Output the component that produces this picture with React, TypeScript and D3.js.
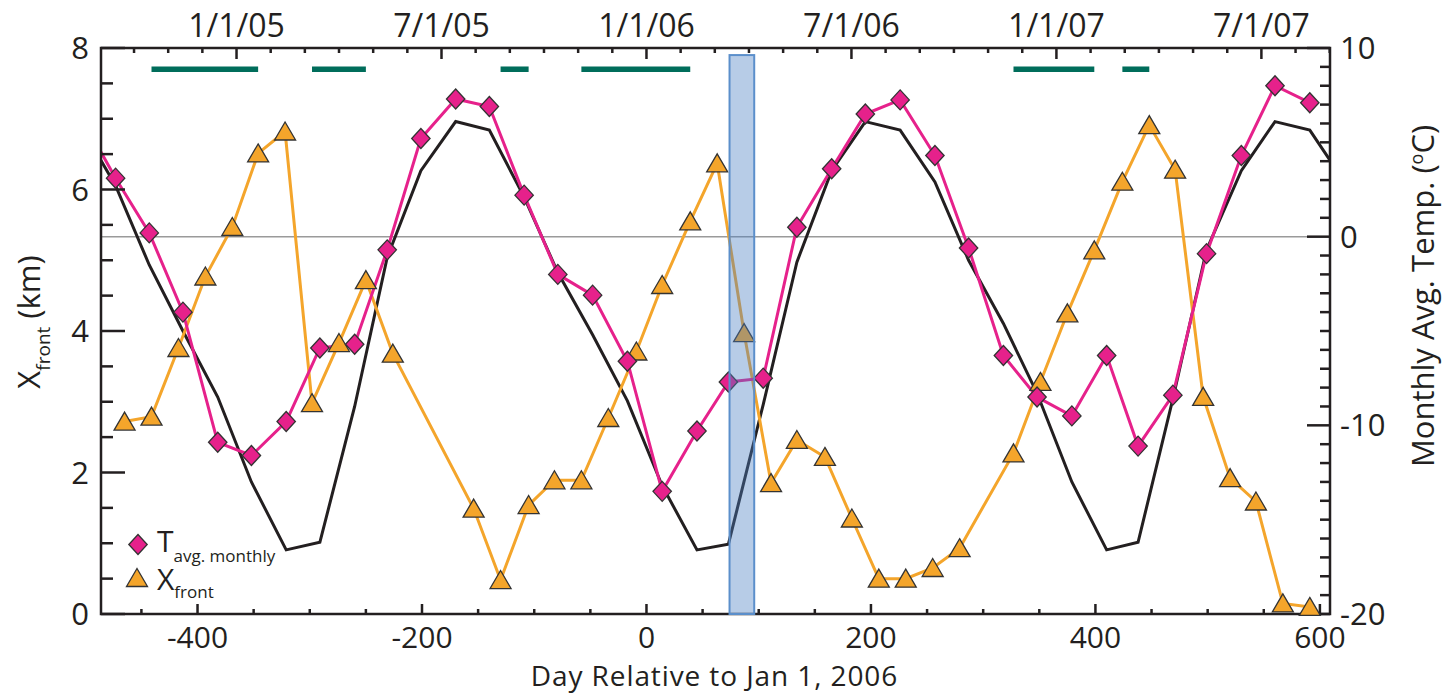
import React from 'react';
import * as d3 from 'd3';

// ---------------- data ----------------
const xDomain = [-486, 609];
const leftDomain = [0, 8];
const rightDomain = [-20, 10];

// monthly average temperature (diamonds)
const tDays = [-504, -473, -443, -413, -382, -352, -321, -291, -260, -231, -201, -170, -140, -109, -79, -48, -17, 14, 45, 73, 104, 134, 165, 195, 226, 257, 287, 318, 348, 379, 410, 438, 469, 499, 530, 560, 591];
const tAvg = [6.4, 3.1, 0.2, -4.0, -10.9, -11.6, -9.8, -5.9, -5.7, -0.7, 5.2, 7.3, 6.9, 2.2, -2.0, -3.1, -6.6, -13.5, -10.3, -7.7, -7.5, 0.5, 3.6, 6.5, 7.25, 4.3, -0.6, -6.3, -8.5, -9.5, -6.3, -11.1, -8.4, -0.9, 4.3, 8.0, 7.1];

// climatological monthly temperature (black line)
const climDays = [-504, -473, -443, -413, -382, -352, -321, -291, -260, -231, -201, -170, -140, -109, -79, -48, -17, 14, 45, 73, 104, 134, 165, 195, 226, 257, 287, 318, 348, 379, 410, 438, 469, 499, 530, 560, 591, 622];
const climTemp = [5.9, 2.7, -1.5, -5.0, -8.5, -13.0, -16.6, -16.2, -9.0, -1.1, 3.5, 6.1, 5.65, 2.1, -1.9, -5.2, -8.7, -13.2, -16.6, -16.3, -8.9, -1.35, 3.5, 6.1, 5.65, 2.9, -1.25, -4.6, -8.3, -13.0, -16.6, -16.2, -8.6, -0.7, 3.5, 6.1, 5.65, 2.9];

// front position (triangles)
const xfDays = [-465, -441, -417, -393, -369, -346, -322, -298, -274, -250, -226, -154, -130, -105, -82, -58, -34, -9, 14, 39, 63, 87, 111, 134, 159, 183, 207, 231, 255, 279, 327, 351, 375, 399, 424, 448, 471, 496, 520, 543, 567, 591];
const xfKm = [2.72, 2.79, 3.76, 4.77, 5.47, 6.51, 6.82, 2.98, 3.83, 4.72, 3.68, 1.49, 0.48, 1.54, 1.89, 1.89, 2.77, 3.71, 4.65, 5.55, 6.37, 3.97, 1.85, 2.46, 2.22, 1.35, 0.50, 0.50, 0.65, 0.93, 2.27, 3.28, 4.25, 5.14, 6.11, 6.91, 6.28, 3.07, 1.92, 1.59, 0.15, 0.10];

// advance periods (green bars)
const advStart = [-441, -298, -130, -58, 327, 424];
const advEnd = [-346, -250, -105, 39, 399, 448];
const advLevel = 7.7;

// highlighted event window
const eventDays = [74, 96];
const eventTop = 7.9;

// ticks
const bottomTicks = [-400, -200, 0, 200, 400, 600];
const leftTicks = [0, 2, 4, 6, 8];
const rightTicks = [-20, -10, 0, 10];
const topLabelYears = [2005, 2005.5, 2006, 2006.5, 2007, 2007.5];
const topLabels = ['1/1/05', '7/1/05', '1/1/06', '7/1/06', '1/1/07', '7/1/07'];

// ---------------- styles ----------------
const FONT = "'Open Sans', 'Noto Sans', sans-serif";
const INK = '#231f20';
const PINK = '#e6218b';
const ORANGE = '#f4a52b';
const TEAL = '#006d5b';

const L = 101, R = 1330, T = 48, B = 614;

export default function App() {
  const x = d3.scaleLinear().domain(xDomain).range([L, R]);
  const yL = d3.scaleLinear().domain(leftDomain).range([B, T]);
  const yR = d3.scaleLinear().domain(rightDomain).range([B, T]);
  const yr = d3.scaleLinear()
    .domain([2006 + xDomain[0] / 365.25, 2006 + xDomain[1] / 365.25])
    .range([L, R]);

  const [y0, y1] = yr.domain();
  const monthTicks = d3.range(Math.ceil(y0 * 12), Math.floor(y1 * 12) + 1).map((k) => ({ v: k / 12, major: k % 6 === 0 }));
  const bottomMinor = d3.range(-450, 601, 50).filter((v) => v % 200 !== 0);
  const leftMinor = d3.range(0, 8.01, 0.5).filter((v) => v % 2 !== 0);
  const rightMinor = d3.range(-20, 10.01, 1).filter((v) => v % 10 !== 0);

  const climPts = climDays.map((d, i) => [d, climTemp[i]] as [number, number]);
  const tPts = tDays.map((d, i) => [d, tAvg[i]] as [number, number]);
  const xfPts = xfDays.map((d, i) => [d, xfKm[i]] as [number, number]);

  const lineR = d3.line<[number, number]>().x((d) => x(d[0])).y((d) => yR(d[1]));
  const lineL = d3.line<[number, number]>().x((d) => x(d[0])).y((d) => yL(d[1]));

  const diamond = 'M0,-10L9.2,0L0,10L-9.2,0Z';
  const triangle = 'M0,-9.5L10.5,8.5L-10.5,8.5Z';

  const visibleT = tPts.filter((p) => p[0] >= xDomain[0] && p[0] <= xDomain[1]);

  return (
    <svg width={1453} height={695} style={{ position: 'absolute', left: 0, top: 0, background: '#fff' }} fontFamily={FONT}>
      <defs>
        <clipPath id="plotClip">
          <rect x={L} y={T} width={R - L} height={B - T} />
        </clipPath>
      </defs>
      <rect x={0} y={0} width={1453} height={695} fill="#fff" />

      {/* zero temperature reference */}
      <line x1={L} x2={R} y1={yR(0)} y2={yR(0)} stroke="#9a9a9a" strokeWidth={1.5} />

      <g clipPath="url(#plotClip)">
        <path d={lineR(climPts) || ''} fill="none" stroke={INK} strokeWidth={3} strokeLinejoin="miter" />
        <path d={lineL(xfPts) || ''} fill="none" stroke={ORANGE} strokeWidth={3} />
        <path d={lineR(tPts) || ''} fill="none" stroke={PINK} strokeWidth={3} />
      </g>

      {/* frame */}
      <rect x={L} y={T} width={R - L} height={B - T} fill="none" stroke={INK} strokeWidth={2.5} />

      {/* bottom ticks */}
      {bottomTicks.map((v) => (
        <line key={'bt' + v} x1={x(v)} x2={x(v)} y1={B} y2={B - 10} stroke={INK} strokeWidth={2.5} />
      ))}
      {bottomMinor.map((v) => (
        <line key={'bm' + v} x1={x(v)} x2={x(v)} y1={B} y2={B - 5} stroke={INK} strokeWidth={2.5} />
      ))}
      {bottomTicks.map((v) => (
        <text key={'bl' + v} x={x(v)} y={648} fontSize={30} textAnchor="middle" fill={INK}>{v}</text>
      ))}

      {/* top ticks */}
      {monthTicks.map((t) => (
        <line key={'tt' + t.v} x1={yr(t.v)} x2={yr(t.v)} y1={T} y2={T + (t.major ? 11 : 5)} stroke={INK} strokeWidth={2.5} />
      ))}
      {topLabelYears.map((v, i) => (
        <text key={'tl' + v} x={yr(v)} y={37} fontSize={32} textAnchor="middle" fill={INK}>{topLabels[i]}</text>
      ))}

      {/* left ticks */}
      {leftTicks.map((v) => (
        <line key={'lt' + v} x1={L} x2={L + 24} y1={yL(v)} y2={yL(v)} stroke={INK} strokeWidth={2.5} />
      ))}
      {leftMinor.map((v) => (
        <line key={'lm' + v} x1={L} x2={L + 12} y1={yL(v)} y2={yL(v)} stroke={INK} strokeWidth={2.5} />
      ))}
      {leftTicks.map((v) => (
        <text key={'ll' + v} x={89} y={yL(v) + 11} fontSize={31} textAnchor="end" fill={INK}>{v}</text>
      ))}

      {/* right ticks */}
      {rightTicks.map((v) => (
        <line key={'rt' + v} x1={R} x2={R - 23} y1={yR(v)} y2={yR(v)} stroke={INK} strokeWidth={2.5} />
      ))}
      {rightMinor.map((v) => (
        <line key={'rm' + v} x1={R} x2={R - 10} y1={yR(v)} y2={yR(v)} stroke={INK} strokeWidth={2.5} />
      ))}
      {rightTicks.map((v) => (
        <text key={'rl' + v} x={1340} y={yR(v) + 11} fontSize={31} textAnchor="start" fill={INK}>{v}</text>
      ))}

      {/* markers */}
      {xfPts.map((p, i) => (
        <path key={'tri' + i} d={triangle} transform={`translate(${x(p[0])},${yL(p[1])})`} fill={ORANGE} stroke="#333" strokeWidth={1.3} />
      ))}
      {visibleT.map((p, i) => (
        <path key={'dia' + i} d={diamond} transform={`translate(${x(p[0])},${yR(p[1])})`} fill={PINK} stroke="#333" strokeWidth={1.3} />
      ))}

      {/* advance periods */}
      {advStart.map((s, i) => (
        <line key={'adv' + i} x1={x(s)} x2={x(advEnd[i])} y1={yL(advLevel)} y2={yL(advLevel)} stroke={TEAL} strokeWidth={5.5} />
      ))}

      {/* event window */}
      <rect x={x(eventDays[0])} y={yL(eventTop)} width={x(eventDays[1]) - x(eventDays[0])} height={yL(0) - yL(eventTop)}
        fill="rgba(75,128,196,0.4)" stroke="#5b8fcb" strokeWidth={2} />

      {/* legend */}
      <path d={diamond} transform="translate(138,544.5)" fill={PINK} stroke="#333" strokeWidth={1.3} />
      <text x={157} y={552} fontSize={30} fill={INK}>T<tspan fontSize={17} dy={10}>avg. monthly</tspan></text>
      <path d={triangle} transform="translate(137,578)" fill={ORANGE} stroke="#333" strokeWidth={1.3} />
      <text x={157} y={590} fontSize={30} fill={INK}>X<tspan fontSize={17} dy={8}>front</tspan></text>

      {/* axis titles */}
      <text x={714.5} y={686} fontSize={28} letterSpacing={0.9} textAnchor="middle" fill={INK}>Day Relative to Jan 1, 2006</text>
      <text transform="translate(40,322) rotate(-90)" fontSize={31} textAnchor="middle" fill={INK}>
        X<tspan fontSize={19} dy={10}>front</tspan><tspan dy={-10}> (km)</tspan>
      </text>
      <text transform="translate(1434,296) rotate(-90)" fontSize={31} textAnchor="middle" fill={INK}>
        Monthly Avg. Temp. (<tspan fontSize={18} dy={-11}>o</tspan><tspan dy={11}>C)</tspan>
      </text>
    </svg>
  );
}
